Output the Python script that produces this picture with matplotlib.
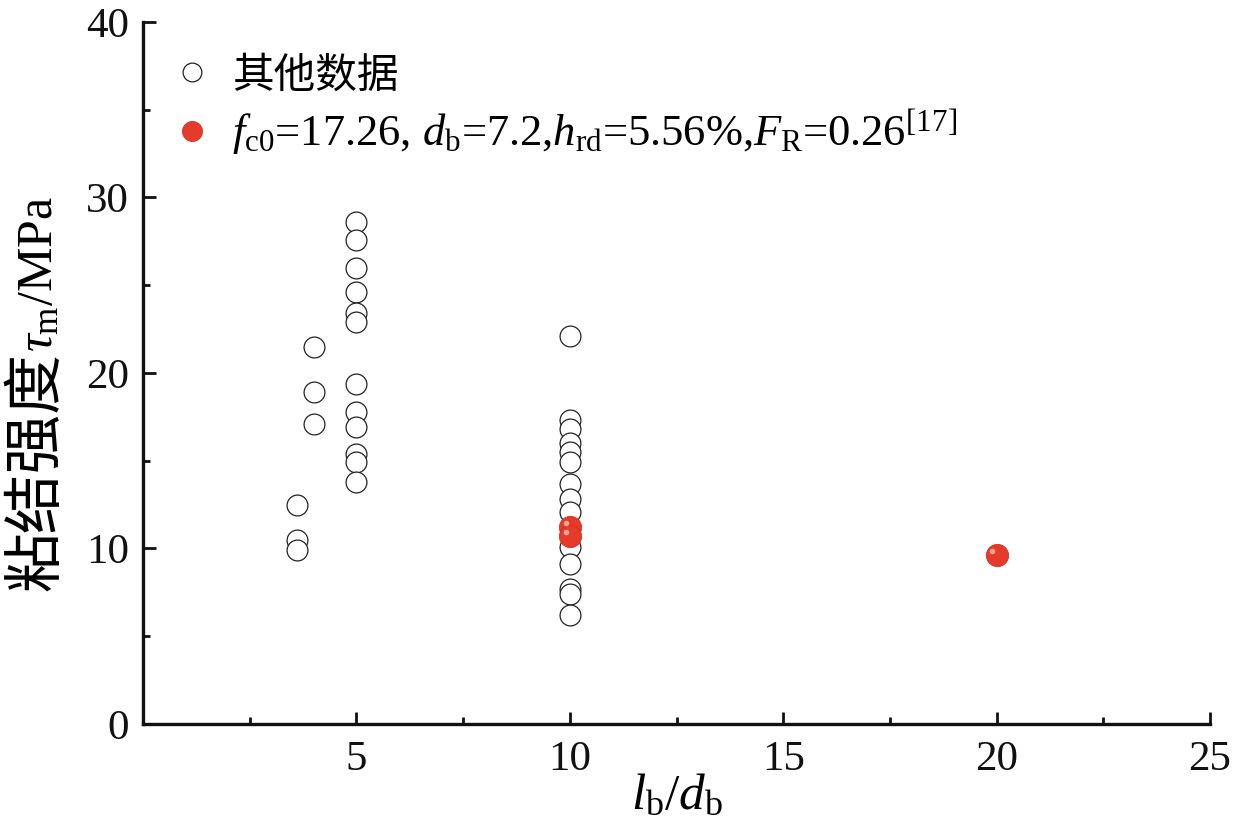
import numpy as np
import matplotlib
matplotlib.use('Agg')
import matplotlib.pyplot as plt
from matplotlib import transforms
from matplotlib.ticker import MultipleLocator, FixedLocator

plt.rcParams['font.family'] = ['Liberation Serif', 'Noto Sans CJK SC']
plt.rcParams['mathtext.fontset'] = 'custom'
plt.rcParams['mathtext.rm'] = 'Liberation Serif'
plt.rcParams['mathtext.it'] = 'Liberation Serif:italic'
plt.rcParams['mathtext.bf'] = 'Liberation Serif:bold'

# other data (open circles)
otherX = [3.6, 3.6, 3.6,
          4.0, 4.0, 4.0,
          5, 5, 5, 5, 5, 5, 5, 5, 5, 5, 5, 5,
          10, 10, 10, 10, 10, 10, 10, 10, 10, 10, 10, 10, 10, 10]
otherY = [12.5, 10.5, 9.9,
          21.5, 18.9, 17.1,
          28.6, 27.6, 26.0, 24.6, 23.4, 22.9, 19.4, 17.8, 16.9, 15.4, 14.9, 13.8,
          22.1, 17.3, 16.8, 16.0, 15.5, 14.9, 13.7, 12.8, 12.1, 10.1, 9.1, 7.7, 7.4, 6.2]

# reference [17] data (red)
refX = [10, 10, 20]
refY = [11.2, 10.7, 9.6]

otherLabel = '其他数据'
refLabel = r'$f_{\mathrm{c0}}$=17.26, $d_{\mathrm{b}}$=7.2,$h_{\mathrm{rd}}$=5.56%,$F_{\mathrm{R}}$=0.26$^{[17]}$'

fig = plt.figure(figsize=(12.34, 8.36), dpi=100)
ax = fig.add_axes([0.1159, 0.134, 0.8647, 0.8397])

ax.plot(otherX, otherY, 'o', linestyle='none', markersize=15, markerfacecolor='white',
        markeredgecolor='#222222', markeredgewidth=0.9, label=otherLabel, zorder=2)
ax.plot(refX, refY, 'o', linestyle='none', markersize=16, markerfacecolor='#e63b2a',
        markeredgecolor='#d03020', markeredgewidth=0.6, label=refLabel, zorder=3)
# small highlight on the red balls
shift = transforms.ScaledTranslation(-3 / 72, 3 / 72, fig.dpi_scale_trans)
ax.plot(refX, refY, 'o', linestyle='none', markersize=4, markerfacecolor='#f6b0a0',
        markeredgewidth=0, alpha=0.9, transform=ax.transData + shift, zorder=4)

ax.set_xlim(0, 25)
ax.set_ylim(0, 40)
ax.xaxis.set_major_locator(FixedLocator([5, 10, 15, 20, 25]))
ax.xaxis.set_minor_locator(FixedLocator([2.5, 7.5, 12.5, 17.5, 22.5]))
ax.yaxis.set_major_locator(MultipleLocator(10))
ax.yaxis.set_minor_locator(MultipleLocator(5))

for side in ['top', 'right']:
    ax.spines[side].set_visible(False)
for side in ['left', 'bottom']:
    ax.spines[side].set_linewidth(2.4)
    ax.spines[side].set_color('#111111')

ax.tick_params(which='major', direction='in', length=9, width=2.0, labelsize=31, pad=12, colors='#111111')
ax.tick_params(which='minor', direction='in', length=5, width=2.0, colors='#111111')
ax.tick_params(axis='y', pad=10)

ax.set_xlabel(r'$l_{\mathrm{b}}/d_{\mathrm{b}}$', fontsize=37, labelpad=-4)

# y label: math part as the axis label, CJK part attached below it
ylab = ax.set_ylabel(r'$\tau_{\mathrm{m}}$/MPa', fontsize=36, va='center')
ax.yaxis.set_label_coords(-0.097, 0.641)
ax.annotate('粘结强度', xy=(0.45, 0.0), xycoords=ylab, rotation=90, fontsize=43,
            family=['Noto Sans CJK SC'], ha='center', va='top')

leg = ax.legend(loc='upper left', bbox_to_anchor=(-0.008, 0.995), frameon=False, fontsize=32,
                handletextpad=0.3, labelspacing=0.25, borderaxespad=0.3, handlelength=1.2,
                markerscale=0.9)
leg.get_texts()[0].set_fontsize(30)

fig.savefig('out.png', dpi=100)
